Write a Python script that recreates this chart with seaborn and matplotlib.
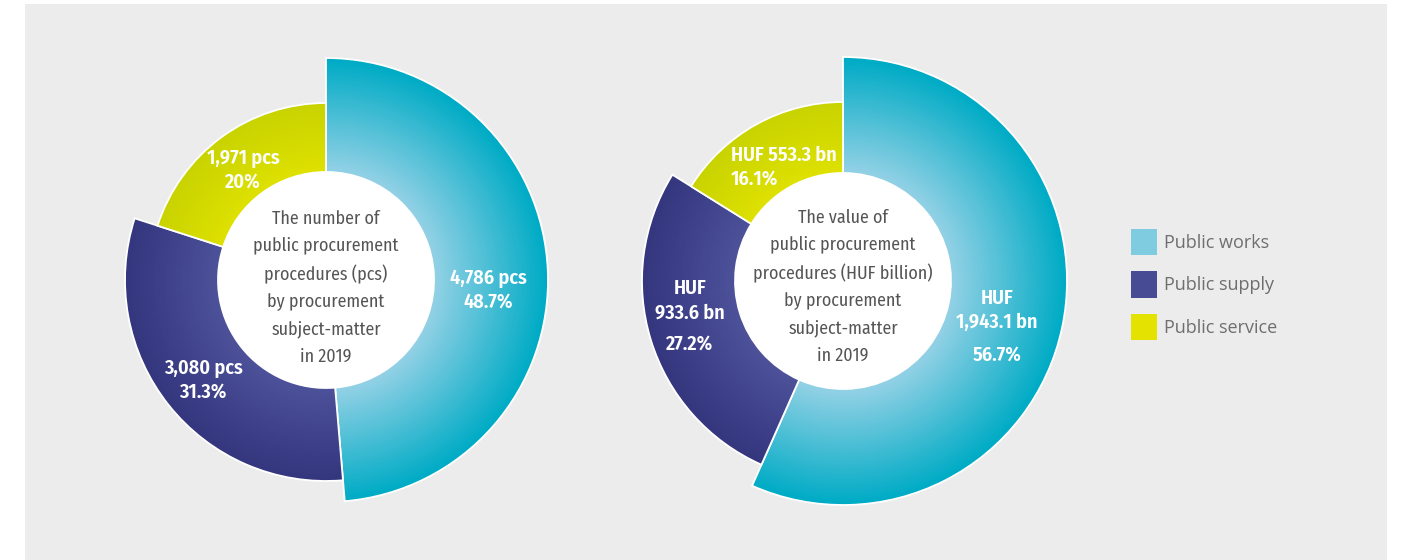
import numpy as np
import matplotlib
matplotlib.use("Agg")
import matplotlib.pyplot as plt
from matplotlib.patches import Rectangle, Patch
import seaborn as sns

# ---------------- data ----------------
categories = ["Public works", "Public supply", "Public service"]
count_values = [4786, 3080, 1971]
count_shares = [48.7, 31.3, 20.0]
value_values = [1943.1, 933.6, 553.3]
value_shares = [56.7, 27.2, 16.1]

count_labels = ["4,786 pcs\n48.7%", "3,080 pcs\n31.3%", "1,971 pcs\n20%"]
value_labels_top = ["HUF\n1,943.1 bn", "HUF\n933.6 bn", "HUF 553.3 bn\n16.1%"]
value_labels_pct = ["56.7%", "27.2%", ""]

center_text_left = ("The number of\npublic procurement\nprocedures (pcs)\n"
                    "by procurement\nsubject-matter\nin 2019")
center_text_right = ("The value of\npublic procurement\nprocedures (HUF billion)\n"
                     "by procurement\nsubject-matter\nin 2019")

# ---------------- style / layout ----------------
sns.set_style("white")
COND = ["Fira Sans Condensed", "DejaVu Sans"]
plt.rcParams["font.family"] = COND

W, H = 1401, 560
fig = plt.figure(figsize=(W / 100, H / 100), dpi=100)
ax = fig.add_axes([0, 0, 1, 1])

def Y(y):
    return H - y

# gradient end-points (inner -> outer) per category
grads = [("#93d1e5", "#00abc5"), ("#4c5199", "#34367e"), ("#dee100", "#c9d300")]
legend_colors = ["#7fcbe0", "#474b94", "#e3e200"]

inner_r = 108
left_center = (326, Y(280))
right_center = (843, Y(281))
left_radii = [222, 201, 177]
right_radii = [224, 201, 179]


def donut(values, center, radii, n_steps=45):
    for i in range(len(values)):
        edges = np.linspace(inner_r, radii[i], n_steps + 1)
        pal = sns.blend_palette(list(grads[i]), n_colors=n_steps)
        for k in range(n_steps):
            w, _ = ax.pie(values, radius=edges[k + 1], center=center,
                          startangle=90, counterclock=False,
                          colors=[pal[k]] * len(values),
                          wedgeprops=dict(width=edges[k + 1] - edges[k] + 0.8,
                                          linewidth=0, antialiased=True))
            for j, wd in enumerate(w):
                if j != i:
                    wd.set_visible(False)
        # white outline
        w, _ = ax.pie(values, radius=radii[i], center=center,
                      startangle=90, counterclock=False,
                      wedgeprops=dict(width=radii[i] - inner_r, fill=False,
                                      edgecolor="white", linewidth=1.3))
        for j, wd in enumerate(w):
            if j != i:
                wd.set_visible(False)
    ax.pie([1], radius=inner_r, center=center, colors=["white"],
           wedgeprops=dict(linewidth=0))


# background panel
ax.add_patch(Rectangle((25, 0), 1362, H - 4, facecolor="#ececec",
                       edgecolor="none", zorder=-10))

donut(count_values, left_center, left_radii)
donut(value_values, right_center, right_radii)

ax.set_xlim(0, W)
ax.set_ylim(0, H)
ax.set_aspect("equal")
ax.axis("off")

# center texts
ctext = dict(ha="center", va="center", color="#555555", fontsize=12.9,
             linespacing=1.66, multialignment="center", zorder=20)
ax.text(326, Y(287.5), center_text_left, **ctext)
ax.text(843, Y(286.5), center_text_right, **ctext)

# value labels
lab = dict(color="white", fontsize=14.5, fontweight="semibold", linespacing=1.3,
           zorder=20)
left_pos = [(488, 290), (203, 380), (243, 170)]
for txt, (x, y) in zip(count_labels, left_pos):
    ax.text(x, Y(y), txt, ha="center", va="center", multialignment="center", **lab)

ax.text(997, Y(310.5), value_labels_top[0], ha="center", va="center",
        multialignment="center", **lab)
ax.text(997, Y(355), value_labels_pct[0], ha="center", va="center", **lab)
ax.text(690, Y(300.5), value_labels_top[1], ha="center", va="center",
        multialignment="center", **lab)
ax.text(690, Y(344), value_labels_pct[1], ha="center", va="center", **lab)
ax.text(731, Y(167), value_labels_top[2], ha="left", va="center",
        multialignment="left", **lab)

# legend
handles = [Patch(facecolor=c, edgecolor="none") for c in legend_colors]
leg = ax.legend(handles, categories, loc="upper left",
                bbox_to_anchor=(1131 / W, Y(229) / H), frameon=False,
                prop={"family": ["Open Sans", "DejaVu Sans"], "size": 13},
                handlelength=1.45, handleheight=1.85, labelspacing=0.9,
                handletextpad=0.35, borderpad=0, borderaxespad=0)
for t in leg.get_texts():
    t.set_color("#6e6e6e")

fig.savefig("out.png", dpi=100, facecolor="white")
